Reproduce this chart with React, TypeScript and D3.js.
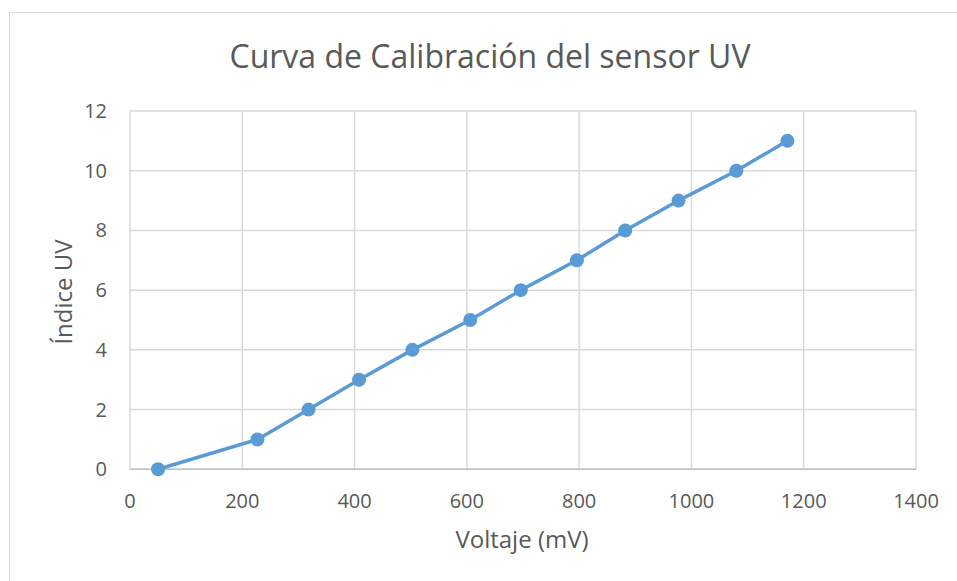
import React from "react";
import * as d3 from "d3";

const voltage = [50, 227, 318, 408, 503, 606, 696, 796, 882, 977, 1080, 1171];
const uvIndex = [0, 1, 2, 3, 4, 5, 6, 7, 8, 9, 10, 11];
const xTicks = [0, 200, 400, 600, 800, 1000, 1200, 1400];
const yTicks = [0, 2, 4, 6, 8, 10, 12];
const title = "Curva de Calibración del sensor UV";
const xTitle = "Voltaje (mV)";
const yTitle = "Índice UV";

export default function App() {
  const W = 957, H = 581;
  const x = d3.scaleLinear().domain([0, 1400]).range([130, 916]);
  const y = d3.scaleLinear().domain([0, 12]).range([469.3, 111]);
  const pts = voltage.map((v, i) => [x(v), y(uvIndex[i])] as [number, number]);
  const line = d3.line()(pts) || "";
  const font = "'Open Sans', sans-serif";
  const txt = "#595959";
  return (
    <svg width={W} height={H} style={{ position: "absolute", left: 0, top: 0 }} fontFamily={font}>
      <rect x={0} y={0} width={W} height={H} fill="#fff" />
      <rect x={9.5} y={12.5} width={960} height={580} fill="none" stroke="#d9d9d9" />
      {xTicks.map((t) => (
        <line key={"gx" + t} x1={x(t)} x2={x(t)} y1={y(0)} y2={y(12)} stroke="#d9d9d9" strokeWidth={1.5} />
      ))}
      {yTicks.map((t) => (
        <line key={"gy" + t} x1={x(0)} x2={x(1400)} y1={y(t)} y2={y(t)} stroke="#d9d9d9" strokeWidth={1.5} />
      ))}
      <line x1={x(0)} x2={x(1400)} y1={y(0)} y2={y(0)} stroke="#bfbfbf" strokeWidth={1.5} />
      {xTicks.map((t) => (
        <text key={"tx" + t} x={x(t)} y={508} textAnchor="middle" fontSize={20} fill={txt}>{t}</text>
      ))}
      {yTicks.map((t) => (
        <text key={"ty" + t} x={107} y={y(t) + 7} textAnchor="end" fontSize={20} fill={txt}>{t}</text>
      ))}
      <path d={line} fill="none" stroke="#5b9bd5" strokeWidth={3.5} strokeLinejoin="round" />
      {pts.map((p, i) => (
        <circle key={i} cx={p[0]} cy={p[1]} r={7} fill="#5b9bd5" />
      ))}
      <text x={490} y={68} textAnchor="middle" fontSize={32} fill={txt}>{title}</text>
      <text x={522} y={548} textAnchor="middle" fontSize={24} fill={txt}>{xTitle}</text>
      <text transform={`translate(72,292) rotate(-90)`} textAnchor="middle" fontSize={24} fill={txt}>{yTitle}</text>
    </svg>
  );
}
